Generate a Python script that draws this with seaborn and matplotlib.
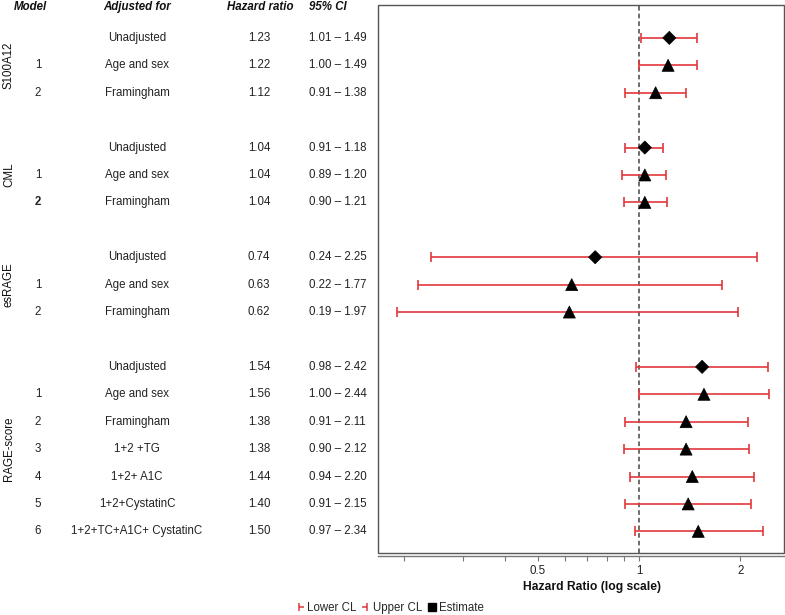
import matplotlib
matplotlib.use('Agg')
from matplotlib import pyplot as plt
from matplotlib.path import Path
from matplotlib.lines import Line2D
from matplotlib.patches import Rectangle
from matplotlib.transforms import blended_transform_factory
from matplotlib.ticker import FixedLocator, NullFormatter
import seaborn as sns
import pandas as pd
import numpy as np

# data
groups = ['S100A12'] * 3 + ['CML'] * 3 + ['esRAGE'] * 3 + ['RAGE-score'] * 7
models = ['', '1', '2', '', '1', '2', '', '1', '2', '', '1', '2', '3', '4', '5', '6']
adjusted = ['Unadjusted', 'Age and sex', 'Framingham',
            'Unadjusted', 'Age and sex', 'Framingham',
            'Unadjusted', 'Age and sex', 'Framingham',
            'Unadjusted', 'Age and sex', 'Framingham', '1+2 +TG', '1+2+ A1C',
            '1+2+CystatinC', '1+2+TC+A1C+ CystatinC']
hazard = [1.23, 1.22, 1.12, 1.04, 1.04, 1.04, 0.74, 0.63, 0.62,
          1.54, 1.56, 1.38, 1.38, 1.44, 1.40, 1.50]
ci_low = [1.01, 1.00, 0.91, 0.91, 0.89, 0.90, 0.24, 0.22, 0.19,
          0.98, 1.00, 0.91, 0.90, 0.94, 0.91, 0.97]
ci_high = [1.49, 1.49, 1.38, 1.18, 1.20, 1.21, 2.25, 1.77, 1.97,
           2.42, 2.44, 2.11, 2.12, 2.20, 2.15, 2.34]

sns.set_theme(style='white')
plt.rcParams['font.family'] = ['Liberation Sans', 'DejaVu Sans']
FS = 8.3
RED = '#e0383c'

df = pd.DataFrame({'group': groups, 'model': models, 'adjusted': adjusted,
                   'hr': hazard, 'lo': ci_low, 'hi': ci_high})
# one blank row between groups
rows, r, prev = [], 0, None
for g in df['group']:
    if prev is not None and g != prev:
        r += 1
    rows.append(r)
    r += 1
    prev = g
df['row'] = rows
df['kind'] = np.where(df['adjusted'] == 'Unadjusted', 'crude', 'adj')

fig = plt.figure(figsize=(7.85, 6.15), dpi=100)
ax = fig.add_axes([378 / 785, 62 / 615, 406 / 785, 548 / 615])

ax.errorbar(df['hr'], df['row'], xerr=[df['hr'] - df['lo'], df['hi'] - df['hr']],
            fmt='none', ecolor=RED, elinewidth=1.2, capsize=3.5, capthick=1.2, zorder=2)
sns.scatterplot(data=df, x='hr', y='row', style='kind',
                markers={'crude': 'D', 'adj': '^'}, color='black',
                size='kind', sizes={'crude': 45, 'adj': 75},
                edgecolor='black', linewidth=0.5, legend=False, ax=ax, zorder=3)
ax.axvline(1, color='#444444', lw=1.1, ls=(0, (3, 2)), zorder=1)

ax.set_xscale('log')
ax.set_xlim(0.167, 2.70)
ax.set_ylim(df['row'].max() + 0.79, -1.2)
ax.xaxis.set_major_locator(FixedLocator([0.5, 1, 2]))
ax.xaxis.set_minor_locator(FixedLocator([0.2, 0.3, 0.4, 0.6, 0.7, 0.8, 0.9]))
ax.xaxis.set_minor_formatter(NullFormatter())
ax.set_xticklabels(['0.5', '1', '2'])
ax.set_yticks([])
ax.set_ylabel('')
ax.tick_params(axis='x', which='both', direction='out', length=3.5, width=0.8,
               color='#777777', labelsize=FS, labelcolor='#222222', pad=3, bottom=True)
for s in ['top', 'left', 'right']:
    ax.spines[s].set_visible(False)
ax.spines['bottom'].set_position(('outward', 2.2))
ax.spines['bottom'].set_color('#777777')
ax.spines['bottom'].set_linewidth(1.0)
ax.add_patch(Rectangle((0, 0), 1, 1, transform=ax.transAxes, fill=False,
                       ec='#555555', lw=1.0, clip_on=False, zorder=5))
ax.set_xlabel('Hazard Ratio (log scale)', fontsize=FS + 0.4, fontweight='bold',
              color='#111111')
ax.xaxis.set_label_coords(0.526, -0.051)

# table on the left
tr = blended_transform_factory(fig.transFigure, ax.transData)
hy = -1.13
hdr = dict(fontsize=FS, fontweight='bold', style='italic', va='center',
           transform=tr, color='#111111')
ax.text(30 / 785, hy, 'Model', ha='center', **hdr)
ax.text(137 / 785, hy, 'Adjusted for', ha='center', **hdr)
ax.text(260 / 785, hy, 'Hazard ratio', ha='center', **hdr)
ax.text(309 / 785, hy, '95% CI', ha='left', **hdr)

cell = dict(fontsize=FS, va='center', transform=tr, color='#222222')
for _, d in df.iterrows():
    wt = 'bold' if (d['group'] == 'CML' and d['model'] == '2') else 'normal'
    ax.text(38 / 785, d['row'], d['model'], ha='center', fontweight=wt, **cell)
    ax.text(137 / 785, d['row'], d['adjusted'], ha='center', **cell)
    ax.text(259 / 785, d['row'], f"{d['hr']:.2f}", ha='center', **cell)
    ax.text(309 / 785, d['row'], f"{d['lo']:.2f} \u2013 {d['hi']:.2f}", ha='left', **cell)

for g, sub in df.groupby('group', sort=False):
    ax.text(9 / 785, sub['row'].mean(), g, rotation=90, ha='center', va='center',
            fontsize=FS, transform=tr, color='#111111')

# legend
lower = Path([(-0.3, -1), (-0.3, 1), (-0.3, 0), (1, 0)],
             [Path.MOVETO, Path.LINETO, Path.MOVETO, Path.LINETO])
upper = Path([(0.3, -1), (0.3, 1), (0.3, 0), (-1, 0)],
             [Path.MOVETO, Path.LINETO, Path.MOVETO, Path.LINETO])
handles = [Line2D([], [], ls='none', marker=lower, ms=6, mec=RED, mfc='none', mew=1.1),
           Line2D([], [], ls='none', marker=upper, ms=6, mec=RED, mfc='none', mew=1.1),
           Line2D([], [], ls='none', marker='s', ms=6, color='black')]
fig.legend(handles, ['Lower CL', 'Upper CL', 'Estimate'], loc='center',
           bbox_to_anchor=(390 / 785, 7 / 615), ncol=3, frameon=False, fontsize=FS,
           handlelength=0.7, handletextpad=0.25, columnspacing=0.5, borderpad=0)

fig.savefig('out.png', dpi=100)
